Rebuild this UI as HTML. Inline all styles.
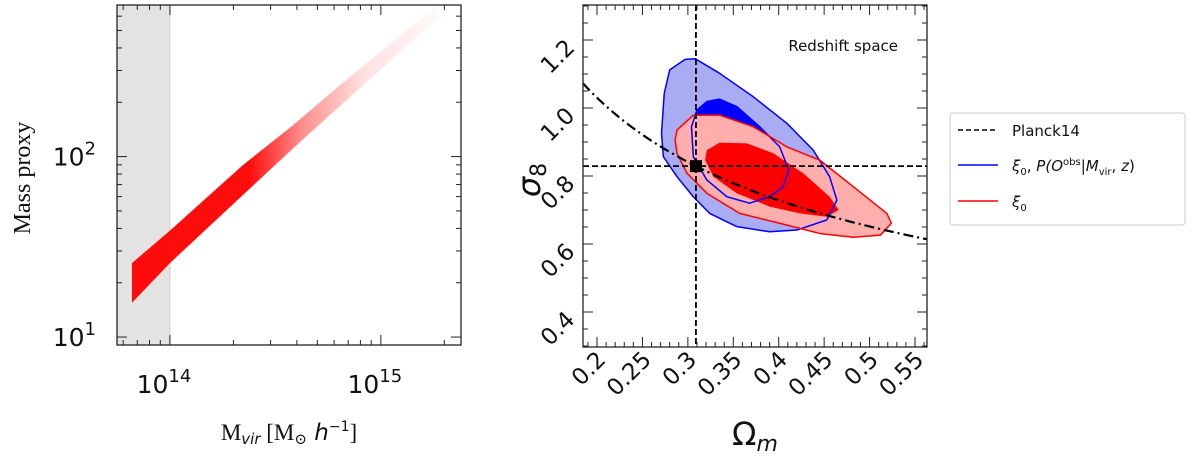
<!DOCTYPE html>
<html><head><meta charset="utf-8"><style>
html,body{margin:0;padding:0;background:#fff;width:1200px;height:462px;overflow:hidden}
svg{display:block}
text{font-family:"DejaVu Sans","Liberation Sans",sans-serif;fill:#111}
.serif{font-family:"Liberation Serif","DejaVu Serif",serif}
</style></head><body>
<svg id="fig" width="1200" height="462" viewBox="0 0 1200 462">
<defs>
<linearGradient id="fade" gradientUnits="userSpaceOnUse" x1="132" y1="0" x2="440" y2="0">
<stop offset="0" stop-color="#ff0000" stop-opacity="0.95"/>
<stop offset="0.38" stop-color="#ff0000" stop-opacity="0.95"/>
<stop offset="0.55" stop-color="#ff0000" stop-opacity="0.45"/>
<stop offset="0.75" stop-color="#ff0000" stop-opacity="0.12"/>
<stop offset="1" stop-color="#ff0000" stop-opacity="0.02"/>
</linearGradient>
<clipPath id="clipR"><rect x="583" y="5" width="344" height="342"/></clipPath>
</defs>
<g id="left"></g>
<g id="right"></g>
<g id="legend">
<rect x="950" y="113" width="235" height="112" rx="3" fill="#fff" stroke="#ccc" stroke-width="1"/>
<g><line x1="958" y1="130" x2="998" y2="130" stroke="#000" stroke-width="1.5" stroke-dasharray="5,3"/><text x="1012" y="136" font-size="15">Planck14</text></g>
<g><line x1="958" y1="165" x2="998" y2="165" stroke="#0000ff" stroke-width="1.5"/><text x="1012" y="171" font-size="15" font-style="italic">ξ<tspan font-size="10" dy="4" font-style="normal">0</tspan><tspan dy="-4" font-style="normal">, </tspan>P(O<tspan font-size="10" dy="-6" font-style="normal">obs</tspan><tspan dy="6" font-style="normal">|</tspan>M<tspan font-size="10" dy="4" font-style="normal">vir</tspan><tspan dy="-4" font-style="normal">, </tspan>z<tspan font-style="normal">)</tspan></text></g>
<g><line x1="958" y1="201" x2="998" y2="201" stroke="#ff0000" stroke-width="1.5"/><text x="1012" y="207" font-size="15" font-style="italic">ξ<tspan font-size="10" dy="4" font-style="normal">0</tspan></text></g>
</g>
</svg>
<script>
// ---- Left panel data ----
const massDecades = [14, 15];
const massTickLabels = ["10", "10"];
const proxyDecades = [1, 2];
// band: log10 Mvir, log10 proxy lower & upper edge
const bandLogM =     [13.82, 14.0, 14.346, 14.583, 14.82, 15.058, 15.266];
const bandLogLow =   [1.19, 1.41, 1.787, 2.045, 2.295, 2.545, 2.76];
const bandLogHigh =  [1.41, 1.59, 1.953, 2.173, 2.409, 2.637, 2.832];
const cutLogM = 14.0;

// ---- Right panel data ----
const omTicks = [0.2,0.25,0.3,0.35,0.4,0.45,0.5,0.55];
const omTickLabels = ["0.2","0.25","0.3","0.35","0.4","0.45","0.5","0.55"];
const s8Ticks = [0.4,0.6,0.8,1.0,1.2];
const s8TickLabels = ["0.4","0.6","0.8","1.0","1.2"];
const planckOm = 0.3089, planckS8 = 0.829;
const degAmp = 0.829, degPivot = 0.3089, degExp = -0.5;
const blueOuterOm = [0.297,0.308,0.335,0.372,0.409,0.438,0.456,0.464,0.453,0.420,0.390,0.354,0.324,0.306,0.288,0.273,0.271,0.274,0.280];
const blueOuterS8 = [1.143,1.145,1.102,1.033,0.955,0.876,0.798,0.729,0.671,0.641,0.636,0.651,0.690,0.739,0.798,0.857,0.926,1.043,1.112];
const blueInnerOm = [0.321,0.335,0.354,0.379,0.401,0.411,0.405,0.390,0.368,0.343,0.321,0.306,0.304,0.310];
const blueInnerS8 = [1.019,1.026,1.004,0.945,0.886,0.818,0.769,0.739,0.720,0.739,0.788,0.857,0.945,0.994];
const redOuterOm = [0.288,0.306,0.335,0.372,0.409,0.445,0.482,0.519,0.524,0.512,0.482,0.445,0.401,0.357,0.321,0.299,0.288,0.286];
const redOuterS8 = [0.935,0.979,0.979,0.945,0.886,0.847,0.769,0.690,0.661,0.626,0.620,0.631,0.661,0.690,0.749,0.808,0.867,0.906];
const redInnerOm = [0.321,0.335,0.365,0.394,0.427,0.456,0.466,0.453,0.423,0.390,0.354,0.328,0.319];
const redInnerS8 = [0.876,0.898,0.896,0.867,0.808,0.739,0.700,0.680,0.690,0.710,0.749,0.798,0.847];

const NS = "http://www.w3.org/2000/svg";
function mk(parent, tag, attrs, text){
  const e = document.createElementNS(NS, tag);
  for (const k in attrs) e.setAttribute(k, attrs[k]);
  if (text !== undefined) e.textContent = text;
  parent.appendChild(e); return e;
}

// ===== Left panel =====
const L = document.getElementById('left');
const lx0=117, lx1=461, ly0=5, ly1=345;
const lxMin=13.749, lxMax=15.38, lyMin=0.956, lyMax=2.84;
const LX = v => lx0 + (v-lxMin)/(lxMax-lxMin)*(lx1-lx0);
const LY = v => ly1 - (v-lyMin)/(lyMax-lyMin)*(ly1-ly0);

let shade = mk(L,'rect',{x:lx0,y:ly0,width:LX(cutLogM)-lx0,height:ly1-ly0,fill:'#e3e3e3'});


mk(L,'line',{x1:LX(cutLogM),y1:ly0,x2:LX(cutLogM),y2:ly1,stroke:'#d0d0d0','stroke-width':1});

let pts = [];
for (let i=0;i<bandLogM.length;i++) pts.push(LX(bandLogM[i])+','+LY(bandLogHigh[i]));
for (let i=bandLogM.length-1;i>=0;i--) pts.push(LX(bandLogM[i])+','+LY(bandLogLow[i]));
let band = mk(L,'polygon',{points:pts.join(' '),fill:'url(#fade)','stroke-linejoin':'round'});



let fr = mk(L,'rect',{x:lx0,y:ly0,width:lx1-lx0,height:ly1-ly0,fill:'none',stroke:'#222','stroke-width':1.3});



// x ticks
for (let d=13; d<=15; d++){
  for (let m=1; m<=9; m++){
    const v = d + Math.log10(m);
    if (v<lxMin || v>lxMax) continue;
    const len = m===1?10:5, x=LX(v);
    mk(L,'line',{x1:x,y1:ly1,x2:x,y2:ly1-len,stroke:'#222','stroke-width':1});
    mk(L,'line',{x1:x,y1:ly0,x2:x,y2:ly0+len,stroke:'#222','stroke-width':1});
  }
}
massDecades.forEach((d,i)=>{
  const t = mk(L,'text',{x:LX(d)-6,y:393,'font-size':25,'text-anchor':'middle'});
  
  
  t.textContent = massTickLabels[i];
  mk(t,'tspan',{'font-size':18,dy:-11},String(d));
});
// y ticks
for (let d=0; d<=2; d++){
  for (let m=1; m<=9; m++){
    const v = d + Math.log10(m);
    if (v<lyMin || v>lyMax) continue;
    const len = m===1?10:5, y=LY(v);
    mk(L,'line',{x1:lx0,y1:y,x2:lx0+len,y2:y,stroke:'#222','stroke-width':1});
    mk(L,'line',{x1:lx1,y1:y,x2:lx1-len,y2:y,stroke:'#222','stroke-width':1});
  }
}
proxyDecades.forEach(d=>{
  const t = mk(L,'text',{x:96,y:LY(d)+9,'font-size':25,'text-anchor':'end'});
  
  
  t.textContent='10';
  mk(t,'tspan',{'font-size':18,dy:-11},String(d));
});
let yl = mk(L,'text',{x:0,y:0,'font-size':24,'text-anchor':'middle','class':'serif',transform:'translate(30,178) rotate(-90)'},'Mass proxy');


let xl = mk(L,'text',{x:289,y:440,'font-size':23,'text-anchor':'middle','class':'serif'});


xl.textContent='M';
mk(xl,'tspan',{'font-size':15,dy:4,'font-style':'italic','font-family':'DejaVu Sans'},'vir');
mk(xl,'tspan',{dy:-4},' [M');
mk(xl,'tspan',{'font-size':15,dy:4},'⊙');
mk(xl,'tspan',{dy:-4,'font-style':'italic','font-family':'DejaVu Sans'},' h');
mk(xl,'tspan',{'font-size':14,dy:-9,'font-family':'DejaVu Sans'},'−1');
mk(xl,'tspan',{dy:9},']');

// ===== Right panel =====
const R = document.getElementById('right');
const rx0=583, rx1=927, ry0=5, ry1=347;
const RX = v => 597 + (v-0.2)*908.6;
const RY = v => 176 - (v-0.8)*340;
mk(R,'rect',{x:rx0,y:ry0,width:rx1-rx0,height:ry1-ry0,fill:'#fff'});
const C = mk(R,'g',{'clip-path':'url(#clipR)'});
function poly(om,s8,attrs,name){
  const p = om.map((o,i)=>RX(o)+','+RY(s8[i])).join(' ');
  const e = mk(C,'polygon',Object.assign({points:p,'stroke-linejoin':'round'},attrs));
  
  
  return e;
}
poly(blueOuterOm,blueOuterS8,{fill:'#a9abf3',stroke:'none'},'blue-contour-2sigma-fill');
poly(blueInnerOm,blueInnerS8,{fill:'#0000ff',stroke:'none'},'blue-contour-1sigma-fill');
poly(redOuterOm,redOuterS8,{fill:'#ffaeae',stroke:'none'},'red-contour-2sigma-fill');
poly(redInnerOm,redInnerS8,{fill:'#ff0000',stroke:'none'},'red-contour-1sigma-fill');
poly(blueOuterOm,blueOuterS8,{fill:'none',stroke:'#0000ff','stroke-width':1.5},'blue-contour-2sigma');
poly(blueInnerOm,blueInnerS8,{fill:'none',stroke:'#0000ff','stroke-width':1.5},'blue-contour-1sigma');
poly(redOuterOm,redOuterS8,{fill:'none',stroke:'#ff0000','stroke-width':1.5},'red-contour-2sigma');

// degeneracy curve
let dp=[];
for (let o=0.17;o<=0.57;o+=0.005) dp.push(RX(o)+','+RY(degAmp*Math.pow(o/degPivot,degExp)));
let deg = mk(C,'polyline',{points:dp.join(' '),fill:'none',stroke:'#000','stroke-width':2.2,'stroke-dasharray':'10,4,2,4'});


let pv = mk(C,'line',{x1:RX(planckOm),y1:ry0,x2:RX(planckOm),y2:ry1,stroke:'#000','stroke-width':1.8,'stroke-dasharray':'6,3'});


let ph = mk(C,'line',{x1:rx0,y1:RY(planckS8),x2:rx1,y2:RY(planckS8),stroke:'#000','stroke-width':1.8,'stroke-dasharray':'6,3'});


let pm = mk(C,'rect',{x:RX(planckOm)-6,y:RY(planckS8)-6,width:12,height:12,fill:'#000'});



let rf = mk(R,'rect',{x:rx0,y:ry0,width:rx1-rx0,height:ry1-ry0,fill:'none',stroke:'#222','stroke-width':1.3});



// ticks
for (let k=18;k<=56;k++){
  const v=k/100, x=RX(v); if (x<rx0||x>rx1) continue;
  const len = (k%5===0)?10:5;
  mk(R,'line',{x1:x,y1:ry1,x2:x,y2:ry1-len,stroke:'#222','stroke-width':1});
  mk(R,'line',{x1:x,y1:ry0,x2:x,y2:ry0+len,stroke:'#222','stroke-width':1});
}
for (let k=6;k<=26;k++){
  const v=k*0.05, y=RY(v); if (y<ry0||y>ry1) continue;
  const len = (k%4===0)?10:5;
  mk(R,'line',{x1:rx0,y1:y,x2:rx0+len,y2:y,stroke:'#222','stroke-width':1});
  mk(R,'line',{x1:rx1,y1:y,x2:rx1-len,y2:y,stroke:'#222','stroke-width':1});
}
omTicks.forEach((v,i)=>{
  const t = mk(R,'text',{x:0,y:0,'font-size':23,'text-anchor':'end',transform:`translate(${RX(v)+10},${ry1+14}) rotate(-45)`},omTickLabels[i]);
  
  
});
s8Ticks.forEach((v,i)=>{
  const t = mk(R,'text',{x:0,y:0,'font-size':23,'text-anchor':'end',transform:`translate(${rx0-7},${RY(v)+9}) rotate(-45)`},s8TickLabels[i]);
  
  
});
let rx = mk(R,'text',{x:755,y:445,'font-size':32,'text-anchor':'middle'},'Ω');


mk(rx,'tspan',{'font-size':22,dy:6,'font-style':'italic'},'m');
let ry = mk(R,'text',{x:0,y:0,'font-size':32,'text-anchor':'middle','font-style':'italic',transform:'translate(540,180) rotate(-90)'},'σ');


mk(ry,'tspan',{'font-size':22,dy:6,'font-style':'normal'},'8');
let ann = mk(R,'text',{x:898,y:51,'font-size':15,'text-anchor':'end'},'Redshift space');


</script>
</body></html>
